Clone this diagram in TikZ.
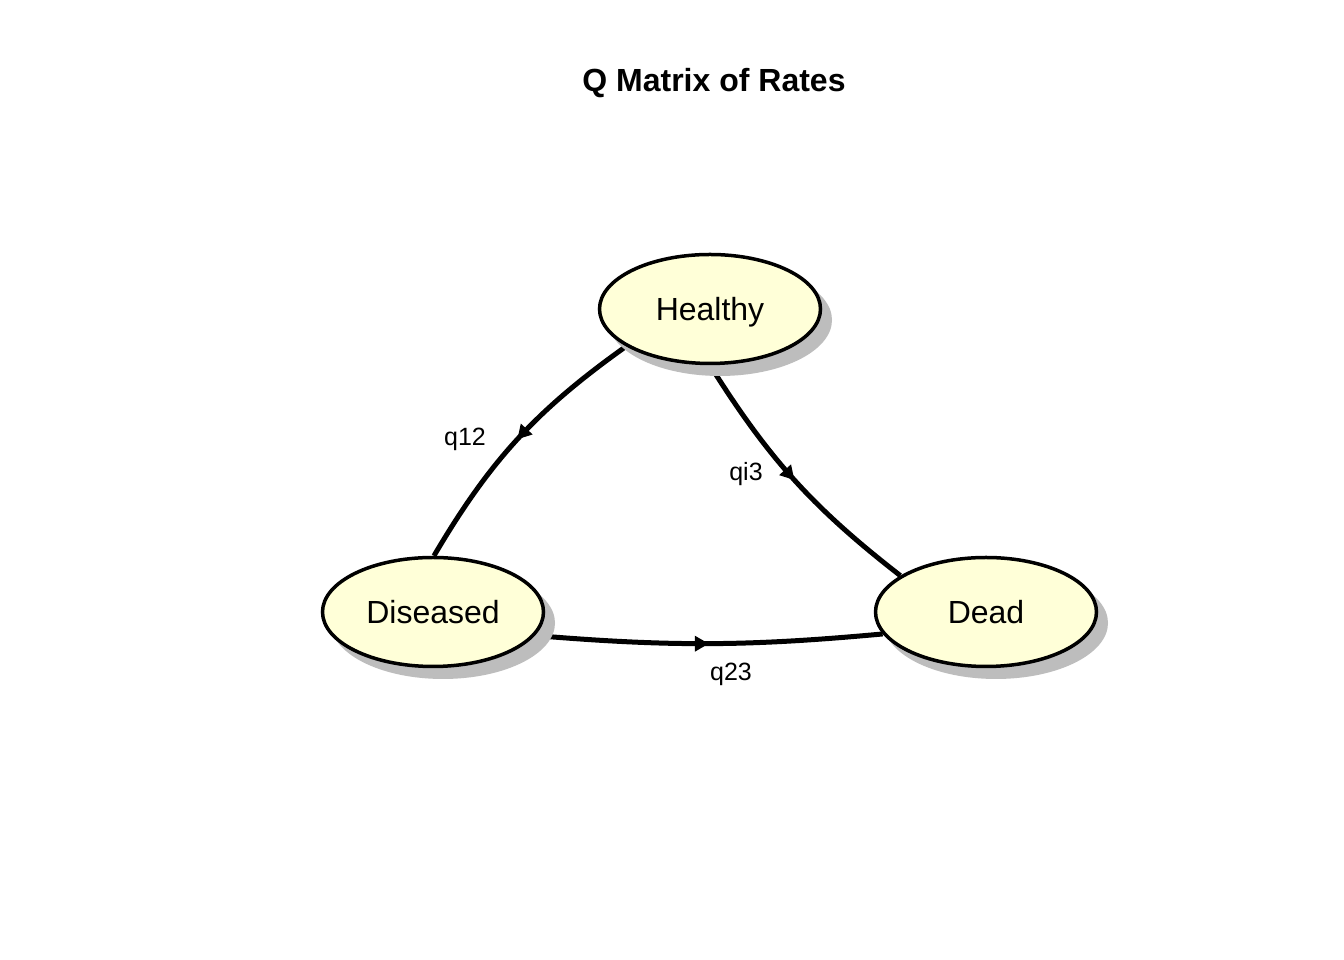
\documentclass[tikz,border=0pt]{standalone}
\usepackage{fontspec}
\setmainfont{Liberation Sans}
\usetikzlibrary{shapes.geometric,decorations.markings,arrows.meta,backgrounds}
\definecolor{statefill}{HTML}{FFFFD8}
\definecolor{shadowgray}{HTML}{BDBDBD}
\begin{document}
\begin{tikzpicture}[x=1pt,y=1pt,
  state/.style={ellipse,draw=black,line width=3.5pt,fill=statefill,minimum width=221pt,minimum height=109pt,inner sep=0pt,text height=23pt,text depth=0pt,font=\fontsize{32}{36}\selectfont},
  shadowst/.style={ellipse,fill=shadowgray,minimum width=224pt,minimum height=112pt,inner sep=0pt},
  trans/.style={line width=5pt,postaction={decorate},decoration={markings,mark=at position 0.5 with {\arrow{Triangle[length=14pt,width=15pt]}}}},
  lab/.style={font=\fontsize{25}{28}\selectfont}]
\useasboundingbox (0,0) rectangle (1344,960);
\node[font=\bfseries\fontsize{32}{36}\selectfont] (title) at (714,877) {Q Matrix of Rates};
\node[shadowst] (Hs) at (720,640) {};
\node[shadowst] (Dis) at (443,337) {};
\node[shadowst] (Des) at (996,337) {};
\node[state] (H) at (710,651) {Healthy};
\node[state] (Di) at (433,348) {Diseased};
\node[state] (De) at (986,348) {Dead};
\begin{pgfonlayer}{background}
\fill[white] (0,0) rectangle (1344,960);
\draw[trans] (H.204) to[bend right=12] (Di.89);
\draw[trans] (H.south) to[bend right=10] (De.157);
\draw[trans] (Di.347) to[bend right=5] (De.192);
\end{pgfonlayer}
\node[lab] (l12) at (465,521) {q12};
\node[lab] (l13) at (746,486) {qi3};
\node[lab] (l23) at (731,286) {q23};
\end{tikzpicture}
\end{document}
